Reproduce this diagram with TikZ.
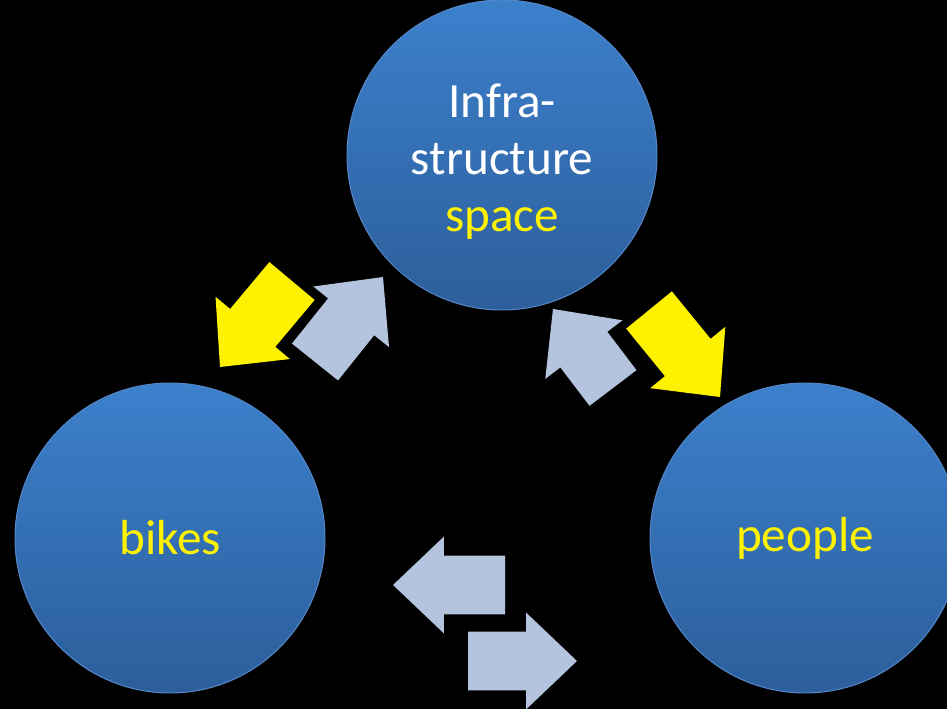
\documentclass[tikz,border=0pt]{standalone}
\usepackage{fontspec}
\setmainfont{Carlito}
\usetikzlibrary{calc}
\definecolor{circtop}{RGB}{60,128,204}
\definecolor{circbot}{RGB}{44,94,155}
\definecolor{circline}{RGB}{84,134,200}
\definecolor{paleblue}{RGB}{180,196,222}
\tikzset{
  bubble/.style={circle, minimum size=6.2cm, inner sep=0pt, top color=circtop, bottom color=circbot, draw=circline, line width=0.6pt, text=yellow, font=\fontsize{28}{32.5}\selectfont, align=center},
  fatarrow/.style={to path={
    ($(\tikztostart)!0.59cm!90:(\tikztotarget)$)
    -- ($(\tikztotarget)!1.02cm!(\tikztostart)!0.59cm!90:(\tikztotarget)$)
    -- ($(\tikztotarget)!1.02cm!(\tikztostart)!0.97cm!90:(\tikztotarget)$)
    -- (\tikztotarget)
    -- ($(\tikztotarget)!1.02cm!(\tikztostart)!0.97cm!-90:(\tikztotarget)$)
    -- ($(\tikztotarget)!1.02cm!(\tikztostart)!0.59cm!-90:(\tikztotarget)$)
    -- ($(\tikztostart)!0.59cm!-90:(\tikztotarget)$) -- cycle}}
}
\begin{document}
\begin{tikzpicture}[x=0.02cm, y=-0.02cm]
  \fill[black] (0,0) rectangle (947,709); % background
  \clip (0,0) rectangle (947,709);
  \node[bubble] (space) at (502,155) {\rule{0pt}{27pt}\textcolor{white}{Infra-}\\\textcolor{white}{structure}\\space};
  \node[bubble] (bikes) at (170,538) {bikes};
  \node[bubble] (people) at (805,538) {people};
  \coordinate (sb-tail) at (292,281); \coordinate (sb-tip) at (220,367); % space to bikes
  \coordinate (bs-tail) at (315,362); \coordinate (bs-tip) at (383,277); % bikes to space
  \coordinate (ps-tail) at (613,388); \coordinate (ps-tip) at (553,309); % people to space
  \coordinate (sp-tail) at (649,310); \coordinate (sp-tip) at (720,397); % space to people
  \coordinate (pb-tail) at (505,585); \coordinate (pb-tip) at (393,585); % people to bikes
  \coordinate (bp-tail) at (468,661); \coordinate (bp-tip) at (577,661); % bikes to people
  \fill[yellow] (sb-tail) to[fatarrow] (sb-tip);
  \fill[paleblue] (bs-tail) to[fatarrow] (bs-tip);
  \fill[paleblue] (ps-tail) to[fatarrow] (ps-tip);
  \fill[yellow] (sp-tail) to[fatarrow] (sp-tip);
  \fill[paleblue] (pb-tail) to[fatarrow] (pb-tip);
  \fill[paleblue] (bp-tail) to[fatarrow] (bp-tip);
\end{tikzpicture}
\end{document}
